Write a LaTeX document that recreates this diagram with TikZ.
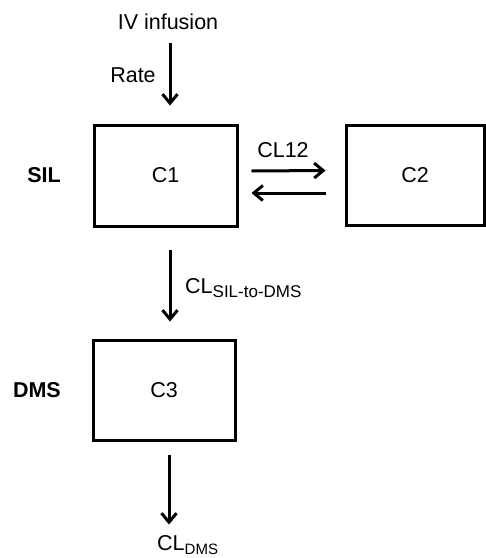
\documentclass[tikz,border=0pt]{standalone}
\usepackage{fontspec}
\setmainfont{Liberation Sans}
\usetikzlibrary{arrows.meta}

\newcommand{\subtxt}[2][15]{\raisebox{-4.5pt}{\fontsize{#1}{#1}\selectfont #2}}

\begin{document}
\begin{tikzpicture}[x=1pt,y=-1pt,
  every node/.style={font=\fontsize{21.5}{24}\selectfont, inner sep=0pt},
  comp/.style={draw, line width=3pt, rectangle},
  arr/.style={line width=3pt, -{Straight Barb[length=9pt,width=15pt]}},
  lbl/.style={font=\fontsize{21.5}{24}\selectfont\bfseries}
]
\useasboundingbox (0,0) rectangle (486,558);

% compartments
\node[comp, minimum width=143pt, minimum height=101pt] (c1) at (165.5,175.5) {C1};
\node[comp, minimum width=138pt, minimum height=100pt] (c2) at (415,175) {C2};
\node[comp, minimum width=142pt, minimum height=100pt] (c3) at (164,390) {C3};

% group labels
\node[lbl, anchor=east] (sil) at (61,175) {SIL};
\node[lbl, anchor=east] (dms) at (61,390) {DMS};

% input
\node (iv) at (168,22) {IV infusion};
\node (rate) at (133,75) {Rate};
\draw[arr] ([xshift=2pt,yshift=-13pt]iv.south) -- ([xshift=4.5pt,yshift=18pt]c1.north);

% exchange between C1 and C2
\node (cl12) at (283,150) {CL12};
\draw[arr] ([xshift=13pt,yshift=4.5pt]c1.east) -- ([xshift=-19pt,yshift=4.5pt]c2.west);
\draw[arr] ([xshift=-19pt,yshift=-18pt]c2.west) -- ([xshift=13pt,yshift=-17.5pt]c1.east);

% conversion C1 -> C3
\node[anchor=base west] (clsil) at (185,293) {CL\subtxt[17]{SIL-to-DMS}};
\draw[arr] ([xshift=4.5pt,yshift=-22pt]c1.south) -- ([xshift=6pt,yshift=17pt]c3.north);

% elimination from C3
\node[anchor=base west] (cldms) at (157,550) {CL\subtxt{DMS}};
\draw[arr] ([xshift=5pt,yshift=-13pt]c3.south) -- ([xshift=5pt,yshift=-83pt]c3.south);
\end{tikzpicture}
\end{document}
